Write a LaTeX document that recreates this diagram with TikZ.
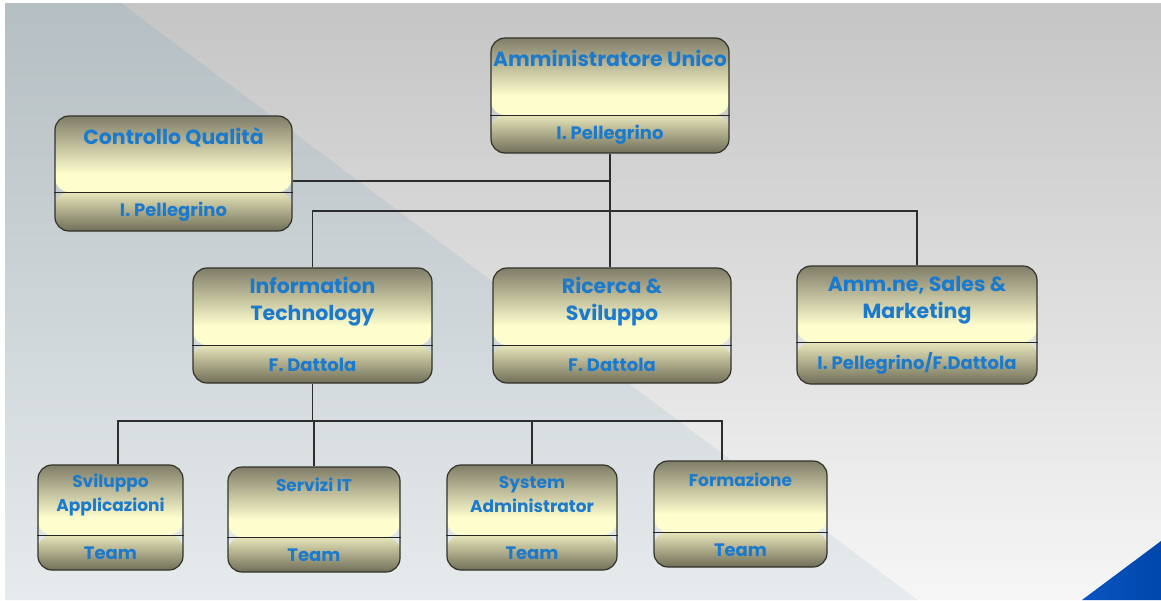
\documentclass[tikz,border=0pt]{standalone}
\usepackage{fontspec}
\setmainfont{Poppins}
\definecolor{bdark}{RGB}{128,125,104}
\definecolor{blight}{RGB}{253,253,206}
\definecolor{bmid}{RGB}{232,230,186}
\definecolor{bdark2}{RGB}{112,110,88}
\definecolor{bborder}{RGB}{50,50,42}
\definecolor{txtblue}{RGB}{28,122,204}
\definecolor{connc}{RGB}{45,45,45}
\definecolor{bgL1}{RGB}{181,190,194}
\definecolor{bgL2}{RGB}{230,235,237}
\definecolor{bgR1}{RGB}{197,197,197}
\definecolor{bgR2}{RGB}{246,246,246}
\definecolor{blueA}{RGB}{10,85,195}
\definecolor{blueB}{RGB}{0,70,170}
\pgfdeclareverticalshading{boxtopshade}{100bp}{color(0bp)=(blight); color(25bp)=(blight); color(50bp)=(blight); color(75bp)=(bdark); color(100bp)=(bdark)}
\pgfdeclareverticalshading{boxbotshade}{100bp}{color(0bp)=(bdark2); color(25bp)=(bdark2); color(75bp)=(bmid); color(100bp)=(bmid)}
\tikzset{
  orgboxshape/.style={draw=bborder, line width=1.2pt, rounded corners=14pt, inner sep=0pt},
  divider/.style={draw=black!85, line width=1pt},
  titletext/.style={text=txtblue, font=\bfseries\fontsize{20.5}{27}\selectfont, align=center, inner sep=0pt},
  smalltitle/.style={text=txtblue, font=\bfseries\fontsize{17}{24}\selectfont, align=center, inner sep=0pt},
  subtext/.style={text=txtblue, font=\bfseries\fontsize{18}{20}\selectfont, inner sep=0pt},
  teamtext/.style={text=txtblue, font=\bfseries\fontsize{17}{20}\selectfont, inner sep=0pt},
  conn/.style={draw=connc, line width=1.1pt},
}
% #1 name, #2 x1, #3 y1, #4 x2, #5 y2, #6 bottom-part height, #7 title center y, #8 title style, #9 subtitle
\newcommand{\orgbox}[9]{%
  \node[orgboxshape, minimum width={(#4-#2)*1pt}, minimum height={(#5-#3)*1pt},
    path picture={%
      \shade[shading=boxtopshade]
        (path picture bounding box.north west) rectangle
        ([yshift=#6pt]path picture bounding box.south east);
      \shade[shading=boxbotshade]
        ([yshift=#6pt]path picture bounding box.south west) rectangle
        (path picture bounding box.south east);
    }] (#1) at ({(#2+#4)/2},{(#3+#5)/2}) {};
  \draw[divider] ([yshift=#6pt]#1.south west) -- ([yshift=#6pt]#1.south east);
  \node[#8] (#1t) at ({(#2+#4)/2},#7) {\csname orgtitle#1\endcsname};
  \node[\ifx#8smalltitle teamtext\else subtext\fi] (#1s) at ([yshift={#6pt/2}]#1.south) {#9};
}
\begin{document}
\begin{tikzpicture}[x=1pt,y=-1pt]
\useasboundingbox (0,0) rectangle (1161,600);
% background
\fill[white] (0,0) rectangle (1161,600);
\shade[top color=bgL1, bottom color=bgL2] (5,3) -- (122,3) -- (918,600) -- (5,600) -- cycle;
\shade[top color=bgR1, bottom color=bgR2] (122,3) -- (1161,3) -- (1161,600) -- (918,600) -- cycle;
\shade[left color=blueA, right color=blueB] (1082,600) -- (1161,541) -- (1161,600) -- cycle;

\expandafter\def\csname orgtitleau\endcsname{Amministratore Unico}
\expandafter\def\csname orgtitlecq\endcsname{Controllo Qualità}
\expandafter\def\csname orgtitleit\endcsname{Information\\Technology}
\expandafter\def\csname orgtitlers\endcsname{Ricerca \&\\Sviluppo}
\expandafter\def\csname orgtitleam\endcsname{Amm.ne, Sales \&\\Marketing}
\expandafter\def\csname orgtitlesv\endcsname{Sviluppo\\Applicazioni}
\expandafter\def\csname orgtitlesi\endcsname{Servizi IT}
\expandafter\def\csname orgtitlesy\endcsname{System\\Administrator}
\expandafter\def\csname orgtitlefo\endcsname{Formazione}

\orgbox{au}{491}{38}{729}{153}{38}{58}{titletext}{I. Pellegrino}
\orgbox{cq}{55}{116}{292}{231}{39}{137}{titletext}{I. Pellegrino}
\orgbox{it}{193}{268}{432}{383}{38}{302}{titletext}{F. Dattola}
\orgbox{rs}{493}{268}{731}{383}{38}{302}{titletext}{F. Dattola}
\orgbox{am}{797}{266}{1037}{384}{42}{300}{titletext}{I. Pellegrino/F.Dattola}
\orgbox{sv}{38}{465}{183}{570}{35}{495}{smalltitle}{Team}
\orgbox{si}{228}{467}{400}{572}{35}{485}{smalltitle}{Team}
\orgbox{sy}{447}{465}{617}{570}{35}{495}{smalltitle}{Team}
\orgbox{fo}{654}{461}{827}{567}{35}{480}{smalltitle}{Team}

% connectors
\coordinate (qline) at ([yshift=-7.5pt]cq.east);
\draw[conn] (qline) -- (qline -| au.south);
\draw[conn] (au.south) -- (au.south |- rs.north);
\coordinate (tbus) at (611,211);
\draw[conn] (it.north) |- (tbus) -| (am.north);
\coordinate (bbus) at (313,421);
\draw[conn] (it.south) -- (it.south |- bbus);
\draw[conn] ([xshift=7.5pt]sv.north) |- (bbus) -| ([xshift=-18.5pt]fo.north);
\draw[conn] (si.north) -- (si.north |- bbus);
\draw[conn] (sy.north) -- (sy.north |- bbus);
\end{tikzpicture}
\end{document}
